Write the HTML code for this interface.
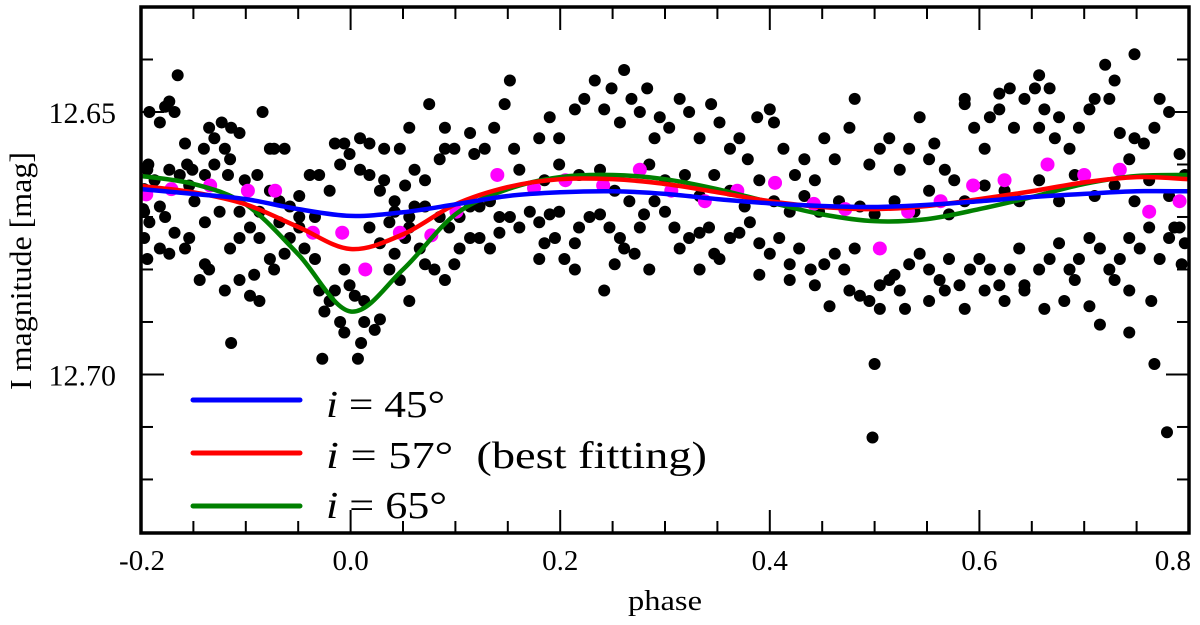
<!DOCTYPE html>
<html><head><meta charset="utf-8"><style>
html,body{margin:0;padding:0;background:#fff;}
svg{display:block;font-family:"Liberation Serif",serif;}
</style></head><body>
<svg id="chart" width="1200" height="625" viewBox="0 0 1200 625" xmlns="http://www.w3.org/2000/svg">
<defs><clipPath id="clip"><rect x="141" y="7" width="1048" height="526"/></clipPath></defs>
<g id="marks" clip-path="url(#clip)"></g>
<g id="axes"></g>
<rect x="141" y="7" width="1048" height="526" fill="none" stroke="#000" stroke-width="3.5"/>
<text x="0" y="0" transform="translate(31,271) rotate(-90)" text-anchor="middle" font-size="31" textLength="238" lengthAdjust="spacingAndGlyphs">I magnitude [mag]</text>
<text x="665" y="610" text-anchor="middle" font-size="29" textLength="74" lengthAdjust="spacingAndGlyphs">phase</text>
<g>
<line x1="193" y1="400" x2="300" y2="400" stroke="#0000ff" stroke-width="5" stroke-linecap="round"/>
<text x="326" y="417" font-size="38" textLength="119" lengthAdjust="spacingAndGlyphs" xml:space="preserve"><tspan font-style="italic">i</tspan> = 45°</text>
<line x1="193" y1="453" x2="300" y2="453" stroke="#ff0000" stroke-width="5" stroke-linecap="round"/>
<text x="326" y="468" font-size="38" textLength="381" lengthAdjust="spacingAndGlyphs" xml:space="preserve"><tspan font-style="italic">i</tspan> = 57°  (best fitting)</text>
<line x1="193" y1="506" x2="300" y2="506" stroke="#008000" stroke-width="5" stroke-linecap="round"/>
<text x="326" y="518" font-size="38" textLength="121" lengthAdjust="spacingAndGlyphs" xml:space="preserve"><tspan font-style="italic">i</tspan> = 65°</text>
</g>
</svg>
<script>
const xTicks = [-0.2, 0.0, 0.2, 0.4, 0.6, 0.8];
const xTickLabels = ["-0.2", "0.0", "0.2", "0.4", "0.6", "0.8"];
const yTicks = [12.65, 12.70];
const yTickLabels = ["12.65", "12.70"];
const modelPhase = [-0.2,-0.15,-0.1,-0.05,0,0.05,0.1,0.15,0.2,0.25,0.3,0.35,0.4,0.45,0.5,0.55,0.6,0.65,0.7,0.75,0.8];
const mag45 = [12.6647,12.6656,12.6666,12.6685,12.6698,12.6691,12.6676,12.6660,12.6653,12.6651,12.6656,12.6666,12.6674,12.6679,12.6681,12.6677,12.6670,12.6662,12.6656,12.6651,12.6651];
const mag57 = [12.6641,12.6653,12.6676,12.6719,12.6761,12.6733,12.6676,12.6643,12.6628,12.6628,12.6637,12.6653,12.6670,12.6681,12.6685,12.6679,12.6666,12.6651,12.6634,12.6624,12.6628];
const mag65 = [12.6622,12.6637,12.6676,12.6771,12.6880,12.6800,12.6695,12.6647,12.6624,12.6620,12.6628,12.6647,12.6672,12.6695,12.6708,12.6704,12.6685,12.6662,12.6637,12.6622,12.6620];
const binData = [[-0.195,12.6657],[-0.171,12.6647],[-0.134,12.664],[-0.098,12.665],[-0.072,12.665],[-0.036,12.673],[-0.008,12.673],[0.014,12.680],[0.047,12.673],[0.077,12.6735],[0.101,12.669],[0.140,12.662],[0.175,12.6645],[0.205,12.663],[0.241,12.664],[0.276,12.661],[0.306,12.665],[0.338,12.667],[0.369,12.665],[0.405,12.6635],[0.442,12.6675],[0.472,12.6685],[0.505,12.676],[0.532,12.669],[0.563,12.667],[0.594,12.664],[0.624,12.663],[0.665,12.660],[0.700,12.662],[0.734,12.661],[0.762,12.669],[0.791,12.667]];
const dotData = [
[-0.192,12.650],[-0.177,12.649],[-0.182,12.652],[-0.173,12.648],[-0.168,12.650],[-0.158,12.656],[-0.156,12.660],[-0.151,12.661],[-0.165,12.643],[-0.140,12.657],[-0.135,12.653],[-0.130,12.655],[-0.123,12.652],[-0.120,12.657],[-0.114,12.653],[-0.106,12.654],[-0.084,12.650],[-0.089,12.662],[-0.077,12.657],[-0.063,12.657],[-0.073,12.657],[-0.101,12.663],[-0.117,12.662],[-0.115,12.659],[-0.130,12.660],[-0.139,12.662],[-0.154,12.664],[-0.163,12.662],[-0.173,12.661],[-0.194,12.661],[-0.187,12.663],[-0.182,12.668],[-0.197,12.669],[-0.192,12.671],[-0.177,12.670],[-0.197,12.674],[-0.194,12.678],[-0.182,12.676],[-0.168,12.673],[-0.154,12.674],[-0.139,12.679],[-0.158,12.676],[-0.173,12.677],[-0.144,12.682],[-0.135,12.680],[-0.120,12.684],[-0.115,12.676],[-0.106,12.674],[-0.096,12.672],[-0.087,12.669],[-0.077,12.665],[-0.068,12.667],[-0.058,12.668],[-0.049,12.666],[-0.039,12.662],[-0.049,12.672],[-0.058,12.674],[-0.077,12.678],[-0.092,12.681],[-0.106,12.682],[-0.096,12.685],[-0.087,12.686],[-0.073,12.680],[-0.063,12.677],[-0.044,12.676],[-0.034,12.678],[-0.030,12.684],[-0.025,12.688],[-0.020,12.686],[-0.010,12.690],[-0.015,12.684],[-0.006,12.680],[-0.001,12.683],[0.004,12.685],[0.013,12.686],[0.010,12.694],[-0.006,12.692],[-0.027,12.697],[0.007,12.697],[-0.114,12.694],[-0.139,12.671],[-0.125,12.669],[-0.149,12.667],[-0.106,12.669],[-0.087,12.674],[-0.068,12.671],[-0.049,12.670],[-0.034,12.670],[-0.020,12.665],[-0.030,12.662],[-0.010,12.660],[-0.001,12.658],[0.009,12.661],[0.018,12.662],[0.028,12.665],[0.032,12.663],[0.042,12.667],[0.052,12.664],[0.061,12.661],[0.071,12.663],[0.075,12.6485],[0.090,12.653],[0.090,12.657],[0.085,12.659],[0.099,12.657],[0.114,12.654],[0.118,12.658],[0.128,12.657],[0.137,12.653],[0.147,12.6485],[0.152,12.644],[0.156,12.657],[0.161,12.661],[0.056,12.653],[0.047,12.657],[0.032,12.657],[0.018,12.656],[0.009,12.655],[-0.006,12.656],[-0.015,12.656],[0.018,12.672],[0.028,12.675],[0.037,12.680],[0.042,12.677],[0.052,12.674],[0.056,12.672],[0.066,12.676],[0.071,12.679],[0.080,12.680],[0.090,12.682],[0.047,12.682],[0.056,12.686],[0.028,12.6895],[0.023,12.6915],[0.013,12.690],[0.037,12.671],[0.042,12.669],[0.056,12.670],[0.061,12.668],[0.071,12.668],[0.085,12.670],[0.094,12.672],[0.104,12.670],[0.114,12.668],[0.123,12.668],[0.133,12.667],[0.142,12.670],[0.152,12.670],[0.161,12.672],[0.142,12.673],[0.133,12.676],[0.123,12.674],[0.114,12.674],[0.104,12.676],[0.099,12.679],
[0.171,12.669],[0.180,12.671],[0.185,12.675],[0.190,12.6695],[0.199,12.669],[0.195,12.674],[0.204,12.678],[0.214,12.675],[0.218,12.672],[0.228,12.670],[0.238,12.6695],[0.247,12.672],[0.257,12.674],[0.261,12.676],[0.271,12.677],[0.276,12.672],[0.280,12.6695],[0.290,12.667],[0.300,12.669],[0.309,12.672],[0.314,12.676],[0.323,12.674],[0.333,12.673],[0.342,12.672],[0.347,12.677],[0.352,12.678],[0.362,12.674],[0.371,12.673],[0.381,12.671],[0.390,12.675],[0.400,12.677],[0.409,12.674],[0.419,12.679],[0.428,12.676],[0.439,12.680],[0.443,12.683],[0.452,12.679],[0.462,12.677],[0.471,12.680],[0.481,12.676],[0.486,12.685],[0.495,12.686],[0.505,12.683],[0.514,12.682],[0.524,12.684],[0.533,12.679],[0.543,12.677],[0.552,12.680],[0.562,12.682],[0.571,12.678],[0.581,12.683],[0.591,12.680],[0.600,12.678],[0.610,12.680],[0.619,12.683],[0.629,12.680],[0.638,12.676],[0.643,12.684],[0.657,12.680],[0.667,12.678],[0.676,12.675],[0.686,12.680],[0.695,12.678],[0.705,12.674],[0.715,12.676],[0.724,12.680],[0.734,12.678],[0.743,12.674],[0.753,12.676],[0.762,12.672],[0.772,12.678],[0.781,12.674],[0.791,12.672],[0.796,12.675],
[0.180,12.655],[0.190,12.651],[0.199,12.655],[0.214,12.6495],[0.223,12.6475],[0.233,12.644],[0.242,12.6495],[0.249,12.6455],[0.257,12.652],[0.261,12.642],[0.268,12.6475],[0.276,12.650],[0.283,12.6455],[0.290,12.655],[0.295,12.651],[0.304,12.653],[0.314,12.6475],[0.323,12.650],[0.333,12.655],[0.344,12.6485],[0.352,12.652],[0.362,12.657],[0.371,12.655],[0.379,12.659],[0.388,12.651],[0.400,12.6495],[0.404,12.652],[0.413,12.657],[0.424,12.662],[0.433,12.659],[0.443,12.663],[0.452,12.655],[0.462,12.659],[0.476,12.653],[0.481,12.6475],[0.495,12.660],[0.505,12.657],[0.514,12.655],[0.524,12.661],[0.533,12.657],[0.543,12.651],[0.552,12.659],[0.557,12.656],[0.567,12.661],[0.576,12.663],[0.586,12.6475],[0.595,12.653],[0.605,12.657],[0.610,12.651],[0.619,12.6495],[0.629,12.6455],[0.633,12.653],[0.643,12.6475],[0.653,12.6455],[0.657,12.643],[0.662,12.6495],[0.672,12.655],[0.676,12.651],[0.686,12.657],[0.695,12.653],[0.705,12.6495],[0.710,12.6475],[0.720,12.641],[0.724,12.6475],[0.734,12.654],[0.743,12.659],[0.748,12.655],[0.757,12.656],[0.767,12.653],[0.772,12.6475],[0.781,12.650],[0.791,12.658],[0.796,12.662],
[0.185,12.663],[0.199,12.660],[0.218,12.662],[0.238,12.661],[0.252,12.665],[0.266,12.667],[0.285,12.660],[0.300,12.663],[0.319,12.662],[0.333,12.666],[0.347,12.662],[0.362,12.665],[0.376,12.668],[0.390,12.663],[0.404,12.667],[0.419,12.669],[0.433,12.666],[0.447,12.669],[0.466,12.667],[0.486,12.668],[0.500,12.6695],[0.519,12.667],[0.538,12.669],[0.552,12.665],[0.571,12.6695],[0.586,12.667],[0.605,12.664],[0.624,12.665],[0.638,12.667],[0.657,12.663],[0.676,12.667],[0.691,12.662],[0.710,12.666],[0.729,12.664],[0.748,12.667],[0.762,12.663],[0.781,12.666],
[0.252,12.679],[0.476,12.684],[0.505,12.6875],[0.519,12.681],[0.500,12.698],[0.498,12.712],[0.529,12.6875],[0.586,12.6875],[0.605,12.684],[0.643,12.683],[0.681,12.686],[0.705,12.687],[0.743,12.692],[0.764,12.686],[0.767,12.698],[0.779,12.711],[0.743,12.684],[0.715,12.6905],[0.691,12.682],[0.457,12.687],[0.419,12.682],[0.390,12.681],[0.333,12.680],[0.285,12.680],[0.552,12.686],[0.567,12.684],[0.624,12.686],[0.662,12.6875],[0.729,12.682],[0.786,12.672],[0.793,12.679],[0.242,12.684],[0.180,12.678],[0.214,12.680],[0.748,12.639],[0.729,12.644],[0.667,12.6455],[0.657,12.653],[0.619,12.6465],[0.586,12.6485],
[-0.193,12.660],[-0.197,12.6647],[-0.198,12.6685]
];

const X0 = 141, X1 = 1189, Y0 = 7, Y1 = 533;
const xMin = -0.2, xMax = 0.8, yMin = 12.63, yMax = 12.7302;
function sx(p){ return X0 + (p - xMin) / (xMax - xMin) * (X1 - X0); }
function sy(m){ return Y0 + (m - yMin) / (yMax - yMin) * (Y1 - Y0); }
const NS = "http://www.w3.org/2000/svg";
const marks = document.getElementById('marks');
const axes = document.getElementById('axes');
function mk(tag, attrs, parent){ const e = document.createElementNS(NS, tag); for (const k in attrs) e.setAttribute(k, attrs[k]); parent.appendChild(e); return e; }

dotData.forEach(function(d){
  const c = mk('circle', {cx: sx(d[0]), cy: sy(d[1]), r: 6, fill: '#000'}, marks);
  
  
});
binData.forEach(function(d){
  const c = mk('circle', {cx: sx(d[0]), cy: sy(d[1]), r: 7, fill: '#ff00ff'}, marks);
  
  
});
function curvePath(ph, mg){
  const pts = ph.map(function(p,i){ return [sx(p), sy(mg[i])]; });
  let d = 'M' + pts[0][0] + ',' + pts[0][1];
  for (let i = 0; i < pts.length - 1; i++){
    const p0 = pts[Math.max(0,i-1)], p1 = pts[i], p2 = pts[i+1], p3 = pts[Math.min(pts.length-1,i+2)];
    const c1 = [p1[0] + (p2[0]-p0[0])/6, p1[1] + (p2[1]-p0[1])/6];
    const c2 = [p2[0] - (p3[0]-p1[0])/6, p2[1] - (p3[1]-p1[1])/6];
    d += ' C' + c1[0] + ',' + c1[1] + ' ' + c2[0] + ',' + c2[1] + ' ' + p2[0] + ',' + p2[1];
  }
  return d;
}
const c65 = mk('path', {d: curvePath(modelPhase, mag65), fill: 'none', stroke: '#008000', 'stroke-width': 4.5}, marks);


const c57 = mk('path', {d: curvePath(modelPhase, mag57), fill: 'none', stroke: '#ff0000', 'stroke-width': 4.5}, marks);


const c45 = mk('path', {d: curvePath(modelPhase, mag45), fill: 'none', stroke: '#0000ff', 'stroke-width': 4.5}, marks);



for (let k = 0; k <= 20; k++){
  const p = xMin + k * 0.05;
  const x = sx(p);
  const major = (k % 4 === 0);
  const L = major ? 23 : 12;
  const t1 = mk('line', {x1: x, y1: Y1, x2: x, y2: Y1 - L, stroke: '#000', 'stroke-width': 2}, axes);
  
  
  const t2 = mk('line', {x1: x, y1: Y0, x2: x, y2: Y0 + L, stroke: '#000', 'stroke-width': 2}, axes);
  
  
}
xTicks.forEach(function(p, i){
  const last = (i === xTicks.length - 1);
  const first = (i === 0);
  const t = mk('text', {x: last ? 1191 : (first ? sx(p) + 1 : sx(p)), y: 570, 'text-anchor': last ? 'end' : 'middle', 'font-size': 29}, axes);
  t.textContent = xTickLabels[i];
  
  
});
for (let k = 0; k <= 10; k++){
  const m = 12.63 + k * 0.01;
  const y = sy(m);
  if (y < Y0 + 2 || y > Y1 - 2) continue;
  const major = (k === 2 || k === 7);
  const L = major ? 23 : 12;
  const t1 = mk('line', {x1: X0, y1: y, x2: X0 + L, y2: y, stroke: '#000', 'stroke-width': 2}, axes);
  
  
  const t2 = mk('line', {x1: X1, y1: y, x2: X1 - L, y2: y, stroke: '#000', 'stroke-width': 2}, axes);
  
  
}
yTicks.forEach(function(m, i){
  const t = mk('text', {x: 116, y: sy(m) + 11, 'text-anchor': 'end', 'font-size': 30}, axes);
  t.textContent = yTickLabels[i];
  
  
});
</script>
</body></html>
